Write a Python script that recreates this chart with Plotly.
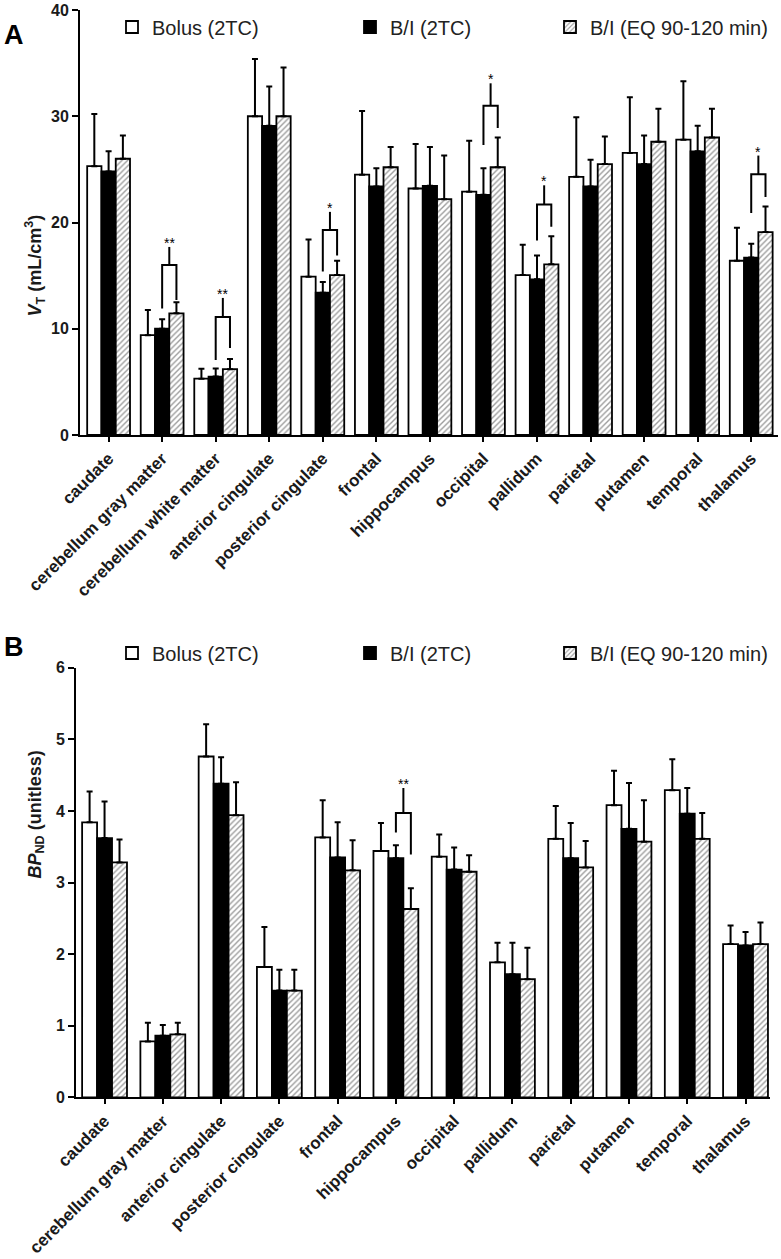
import plotly.graph_objects as go

# ---------------- data ----------------
regions_A = ["caudate", "cerebellum gray matter", "cerebellum white matter",
             "anterior cingulate", "posterior cingulate", "frontal", "hippocampus",
             "occipital", "pallidum", "parietal", "putamen", "temporal", "thalamus"]
bolus_A = [25.3, 9.4, 5.3, 30.0, 14.9, 24.5, 23.2, 22.9, 15.05, 24.3, 26.55, 27.8, 16.4]
bolus_A_err = [4.9, 2.36, 0.94, 5.4, 3.5, 6.0, 4.2, 4.8, 2.85, 5.6, 5.25, 5.5, 3.1]
bi_A = [24.8, 10.0, 5.5, 29.1, 13.4, 23.4, 23.45, 22.6, 14.65, 23.4, 25.5, 26.7, 16.7]
bi_A_err = [1.9, 0.9, 0.77, 3.7, 1.0, 1.7, 3.65, 2.5, 2.25, 2.5, 2.7, 2.4, 1.3]
eq_A = [26.0, 11.45, 6.2, 30.0, 15.05, 25.2, 22.2, 25.2, 16.06, 25.5, 27.6, 28.0, 19.1]
eq_A_err = [2.2, 1.05, 0.95, 4.6, 1.35, 1.9, 4.1, 2.8, 2.64, 2.6, 3.1, 2.7, 2.4]

regions_B = ["caudate", "cerebellum gray matter", "anterior cingulate",
             "posterior cingulate", "frontal", "hippocampus", "occipital", "pallidum",
             "parietal", "putamen", "temporal", "thalamus"]
bolus_B = [3.84, 0.78, 4.76, 1.82, 3.63, 3.44, 3.36, 1.885, 3.61, 4.08, 4.29, 2.14]
bolus_B_err = [0.43, 0.26, 0.45, 0.56, 0.52, 0.39, 0.31, 0.275, 0.46, 0.48, 0.43, 0.26]
bi_B = [3.62, 0.86, 4.38, 1.49, 3.35, 3.34, 3.18, 1.72, 3.34, 3.75, 3.96, 2.12]
bi_B_err = [0.51, 0.15, 0.37, 0.29, 0.49, 0.18, 0.31, 0.44, 0.49, 0.64, 0.36, 0.19]
eq_B = [3.28, 0.88, 3.94, 1.49, 3.17, 2.63, 3.15, 1.65, 3.21, 3.57, 3.61, 2.14]
eq_B_err = [0.32, 0.16, 0.46, 0.29, 0.42, 0.29, 0.23, 0.44, 0.37, 0.58, 0.36, 0.30]

series_names = ["Bolus (2TC)", "B/I (2TC)", "B/I (EQ 90-120 min)"]

# significance brackets (between B/I 2TC and B/I EQ bars)
sig_A_cat = [1, 2, 4, 7, 8, 12]
sig_A_label = ["**", "**", "*", "*", "*", "*"]
sig_A_level = [16.0, 11.1, 19.3, 31.0, 21.7, 24.55]
sig_A_left = [11.9, 7.05, 15.4, 27.3, 18.3, 20.9]
sig_A_right = [12.7, 8.2, 16.9, 28.9, 19.6, 22.4]
sig_A_top = [17.7, 12.9, 21.0, 33.1, 23.5, 26.3]

sig_B_cat = [5]
sig_B_label = ["**"]
sig_B_level = [3.97]
sig_B_left = [3.70]
sig_B_right = [3.39]
sig_B_top = [4.32]

# ---------------- figure ----------------
W, H = 781, 1259
FONT = "Arial, Liberation Sans, Helvetica, sans-serif"
GAP_A, GAP_B = 0.2, 0.23

fig = go.Figure()

styles = [
    dict(color="white", pattern=None),
    dict(color="black", pattern=None),
    dict(color="white", pattern=dict(shape="/", fgcolor="#3a3a3a", bgcolor="white",
                                     size=4, solidity=0.35)),
]

def add_panel(xa, ya, cats, vals, errs, legends, gap):
    w = (1 - gap) / 3
    for k in range(3):
        marker = dict(color=styles[k]["color"], line=dict(color="black", width=1.8))
        if styles[k]["pattern"]:
            marker["pattern"] = styles[k]["pattern"]
        fig.add_trace(go.Bar(
            x=list(range(len(cats))), y=vals[k], name=series_names[k],
            width=w, offset=(k - 1.5) * w,
            marker=marker, xaxis=xa, yaxis=ya, legend=legends[k],
            error_y=dict(type="data", array=errs[k], arrayminus=[0] * len(cats),
                         symmetric=False, color="black", thickness=2, width=3),
        ))

add_panel("x", "y", regions_A, [bolus_A, bi_A, eq_A], [bolus_A_err, bi_A_err, eq_A_err],
          ["legend", "legend2", "legend3"], GAP_A)
add_panel("x2", "y2", regions_B, [bolus_B, bi_B, eq_B], [bolus_B_err, bi_B_err, eq_B_err],
          ["legend4", "legend5", "legend6"], GAP_B)

def add_brackets(xa, ya, gap, cats, labels, level, left, right, top):
    w = (1 - gap) / 3
    for c, lab, lv, lb, rb, tp in zip(cats, labels, level, left, right, top):
        xl, xr, xm = c, c + w, c + w / 2
        fig.add_trace(go.Scatter(x=[xl, xl, xr, xr], y=[lb, lv, lv, rb], mode="lines",
                                 line=dict(color="black", width=2), xaxis=xa, yaxis=ya,
                                 showlegend=False, hoverinfo="skip"))
        fig.add_trace(go.Scatter(x=[xm, xm], y=[lv, tp], mode="lines",
                                 line=dict(color="black", width=2), xaxis=xa, yaxis=ya,
                                 showlegend=False, hoverinfo="skip"))
        fig.add_annotation(x=xm, y=tp, xref=xa, yref=ya, text=lab, showarrow=False,
                           yanchor="bottom", yshift=-6,
                           font=dict(family=FONT, size=14, color="black"))

add_brackets("x", "y", GAP_A, sig_A_cat, sig_A_label, sig_A_level, sig_A_left, sig_A_right, sig_A_top)
add_brackets("x2", "y2", GAP_B, sig_B_cat, sig_B_label, sig_B_level, sig_B_left, sig_B_right, sig_B_top)

def px_x(p):
    return p / W

def px_y(p):
    return 1 - p / H

base_axis = dict(showline=True, linecolor="black", linewidth=2, ticks="outside",
                 tickcolor="black", tickwidth=2, showgrid=False, zeroline=False,
                 automargin=False)
ytick_font = dict(family=FONT, size=16, color="#1a1a1a", weight="bold")
xtick_font = dict(family=FONT, size=17, color="#1a1a1a", weight="bold")

fig.update_layout(
    width=W, height=H, margin=dict(l=0, r=0, t=0, b=0, autoexpand=False),
    paper_bgcolor="white", plot_bgcolor="white",
    barmode="overlay", showlegend=True,
    xaxis=dict(domain=[px_x(80), px_x(778)], range=[-0.534, 12.5], anchor="y",
               tickvals=list(range(len(regions_A))), ticktext=regions_A, tickangle=-45,
               ticklen=5, tickfont=xtick_font, **base_axis),
    yaxis=dict(domain=[px_y(435), px_y(10)], range=[0, 40], anchor="x",
               tickvals=[0, 10, 20, 30, 40], ticklen=6, tickfont=ytick_font, **base_axis),
    xaxis2=dict(domain=[px_x(76), px_x(770)], range=[-0.49, 11.42], anchor="y2",
                tickvals=list(range(len(regions_B))), ticktext=regions_B, tickangle=-45,
                ticklen=5, tickfont=xtick_font, **base_axis),
    yaxis2=dict(domain=[px_y(1097.3), px_y(667.7)], range=[0, 6], anchor="x2",
                tickvals=[0, 1, 2, 3, 4, 5, 6], ticklen=6, tickfont=ytick_font, **base_axis),
    font=dict(family=FONT),
)

leg_font = dict(family=FONT, size=20, color="#222")
leg_x = [112, 350, 550]
leg_y = {"A": 27, "B": 653}
for i, key in enumerate(["legend", "legend2", "legend3", "legend4", "legend5", "legend6"]):
    yy = leg_y["A"] if i < 3 else leg_y["B"]
    fig.update_layout({key: dict(x=px_x(leg_x[i % 3]), y=px_y(yy), xanchor="left",
                                 yanchor="middle", orientation="h", font=leg_font,
                                 bgcolor="rgba(0,0,0,0)", borderwidth=0)})

# y-axis titles and panel letters
fig.add_annotation(x=px_x(21), y=px_y(213), xref="paper", yref="paper", showarrow=False,
                   textangle=-90, text="<b><i>V</i><sub>T</sub> (mL/cm<sup>3</sup>)</b>",
                   font=dict(family=FONT, size=18, color="#1a1a1a"))
fig.add_annotation(x=px_x(22), y=px_y(881), xref="paper", yref="paper", showarrow=False,
                   textangle=-90, text="<b><i>BP</i><sub>ND</sub> (unitless)</b>",
                   font=dict(family=FONT, size=18, color="#1a1a1a"))
fig.add_annotation(x=px_x(2), y=px_y(18), xref="paper", yref="paper", showarrow=False,
                   xanchor="left", text="<b>A</b>", font=dict(family=FONT, size=27, color="black"))
fig.add_annotation(x=px_x(2), y=px_y(647), xref="paper", yref="paper", showarrow=False,
                   xanchor="left", text="<b>B</b>", font=dict(family=FONT, size=27, color="black"))

fig.write_html("out.html", config={"displayModeBar": False},
               post_script="document.body.style.margin='0px';document.body.style.overflow='hidden';")
